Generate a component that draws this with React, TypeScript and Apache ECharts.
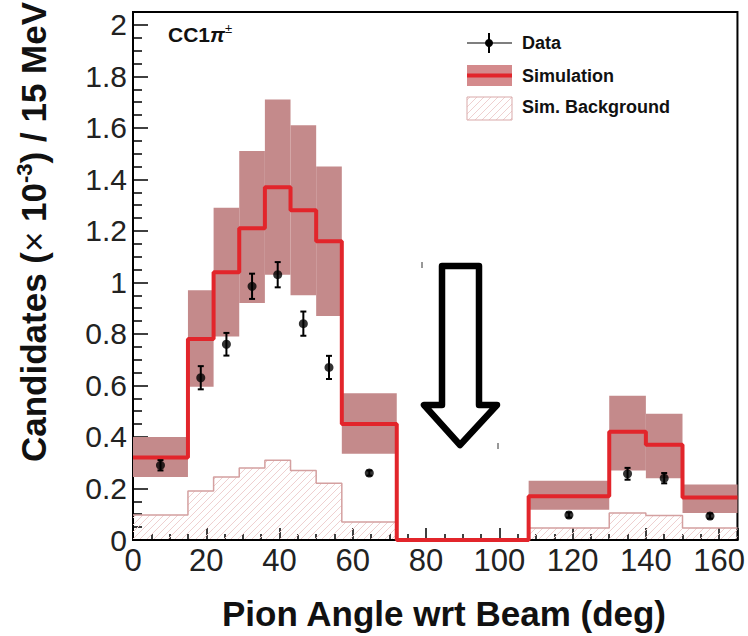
import React, { useEffect, useRef } from 'react';
import * as echarts from 'echarts';

// Histogram bin edges (deg)
const binEdges = [0, 15, 22, 29, 36, 43, 50, 57, 72, 108, 130, 140, 150, 165];
// Simulation central value per bin (x10^-3)
const simulation = [0.32, 0.78, 1.04, 1.21, 1.37, 1.28, 1.16, 0.45, 0, 0.17, 0.42, 0.37, 0.165];
// Simulation uncertainty band per bin
const simBandLow = [0.245, 0.595, 0.79, 0.92, 1.03, 0.95, 0.87, 0.335, 0, 0.117, 0.27, 0.24, 0.105];
const simBandHigh = [0.4, 0.97, 1.29, 1.51, 1.71, 1.61, 1.45, 0.57, 0, 0.23, 0.56, 0.49, 0.215];
// Simulated background per bin
const simBackground = [0.097, 0.19, 0.245, 0.28, 0.31, 0.27, 0.22, 0.07, 0, 0.047, 0.105, 0.095, 0.047];
// Data points
const dataX = [7.5, 18.5, 25.5, 32.5, 39.5, 46.5, 53.5, 64.5, 119, 135, 145, 157.5];
const dataY = [0.29, 0.63, 0.76, 0.985, 1.03, 0.84, 0.67, 0.26, 0.097, 0.257, 0.24, 0.093];
const dataErr = [0.02, 0.045, 0.044, 0.049, 0.049, 0.047, 0.045, 0.01, 0.01, 0.023, 0.02, 0.01];

const FONT = "'Liberation Sans', Arial, Helvetica, sans-serif";
const BAND = '#c48a8b';
const RED = '#e2252b';
const BGLINE = '#d4a0a0';
const HATCH = '#efd0d0';

function hatchLines(left: number, top: number, right: number, bottom: number, s: number, color: string) {
  const out: any[] = [];
  const cStart = Math.ceil((left + top) / s) * s;
  for (let c = cStart; c <= right + bottom; c += s) {
    const xa = Math.max(left, c - bottom);
    const xb = Math.min(right, c - top);
    if (xb > xa) {
      out.push({
        type: 'line',
        shape: { x1: xa, y1: c - xa, x2: xb, y2: c - xb },
        style: { stroke: color, lineWidth: 1 },
        silent: true,
      });
    }
  }
  return out;
}

function stepData(vals: number[]) {
  const pts: number[][] = [];
  for (let i = 0; i < vals.length; i++) pts.push([binEdges[i], vals[i]]);
  pts.push([binEdges[binEdges.length - 1], vals[vals.length - 1]]);
  return pts;
}

export default function App() {
  const ref = useRef<HTMLDivElement>(null);
  useEffect(() => {
    if (!ref.current) return;
    const chart = echarts.init(ref.current, undefined, { renderer: 'svg' });

    const bins = simulation.map((_, i) => [binEdges[i], binEdges[i + 1], simBandLow[i], simBandHigh[i], simBackground[i]]);
    const points = dataX.map((x, i) => [x, dataY[i], dataErr[i]]);

    const legendX0 = 467, legendX1 = 512;

    const option: any = {
      animation: false,
      grid: { left: 133, right: 8, top: 12, bottom: 96, show: true, borderColor: '#000', borderWidth: 2 },
      xAxis: {
        type: 'value', min: 0, max: 165, interval: 20, position: 'bottom',
        axisLine: { show: true, onZero: false, lineStyle: { color: '#000', width: 2 } },
        axisTick: { show: true, inside: true, length: 12, lineStyle: { color: '#000', width: 1.5 } },
        minorTick: { show: true, splitNumber: 4, length: 6, lineStyle: { color: '#000', width: 1.5 } },
        axisLabel: { show: true, showMaxLabel: false, fontSize: 31, color: '#222', fontFamily: FONT, margin: 5 },
        splitLine: { show: false },
        minorSplitLine: { show: false },
      },
      yAxis: {
        type: 'value', min: 0, max: 2.05, interval: 0.2, position: 'left',
        axisLine: { show: true, onZero: false, lineStyle: { color: '#000', width: 2 } },
        axisTick: { show: true, inside: true, length: 15, lineStyle: { color: '#000', width: 1.5 } },
        minorTick: { show: true, splitNumber: 4, length: 9, lineStyle: { color: '#000', width: 1.5 } },
        axisLabel: {
          show: true, showMaxLabel: false, fontSize: 30, color: '#222', fontFamily: FONT, margin: 6,
          formatter: (v: number) => String(+Number(v).toFixed(2)),
        },
        splitLine: { show: false },
        minorSplitLine: { show: false },
      },
      series: [
        {
          type: 'custom', name: 'Sim. Background hatch', z: 1,
          data: bins,
          encode: { x: [0, 1], y: [4] },
          renderItem: (params: any, api: any) => {
            const x0 = api.value(0), x1 = api.value(1), v = api.value(4);
            if (!(v > 0)) return { type: 'group', children: [] };
            const p0 = api.coord([x0, v]);
            const p1 = api.coord([x1, 0]);
            return { type: 'group', children: hatchLines(p0[0], p0[1], p1[0], p1[1] - 1, 7, HATCH) };
          },
        },
        {
          type: 'custom', name: 'Simulation band', z: 2,
          data: bins,
          encode: { x: [0, 1], y: [2, 3] },
          renderItem: (params: any, api: any) => {
            const x0 = api.value(0), x1 = api.value(1), lo = api.value(2), hi = api.value(3);
            if (!(hi > lo)) return { type: 'group', children: [] };
            const p0 = api.coord([x0, hi]);
            const p1 = api.coord([x1, lo]);
            return {
              type: 'rect',
              shape: { x: p0[0], y: p0[1], width: p1[0] - p0[0], height: p1[1] - p0[1] },
              style: { fill: BAND },
            };
          },
        },
        {
          type: 'line', name: 'Sim. Background', step: 'end', z: 3,
          data: stepData(simBackground), showSymbol: false, symbol: 'none',
          lineStyle: { color: BGLINE, width: 1.5 },
        },
        {
          type: 'line', name: 'Simulation', step: 'end', z: 4,
          data: stepData(simulation), showSymbol: false, symbol: 'none',
          lineStyle: { color: RED, width: 4 },
        },
        {
          type: 'custom', name: 'Data errors', z: 5,
          data: points,
          encode: { x: 0, y: 1 },
          renderItem: (params: any, api: any) => {
            const x = api.value(0), y = api.value(1), e = api.value(2);
            const top = api.coord([x, y + e]);
            const bot = api.coord([x, y - e]);
            const st = { stroke: '#000', lineWidth: 2 };
            return {
              type: 'group',
              children: [
                { type: 'line', shape: { x1: top[0], y1: top[1], x2: bot[0], y2: bot[1] }, style: st },
                { type: 'line', shape: { x1: top[0] - 3, y1: top[1], x2: top[0] + 3, y2: top[1] }, style: st },
                { type: 'line', shape: { x1: bot[0] - 3, y1: bot[1], x2: bot[0] + 3, y2: bot[1] }, style: st },
              ],
            };
          },
        },
        {
          type: 'scatter', name: 'Data', z: 6,
          data: points.map((p) => [p[0], p[1]]),
          symbol: 'circle', symbolSize: 9,
          itemStyle: { color: '#000' },
        },
      ],
      graphic: [
        // Axis titles
        {
          type: 'text', x: 444, y: 613,
          style: { text: 'Pion Angle wrt Beam (deg)', font: `bold 35px ${FONT}`, fill: '#111', align: 'center', verticalAlign: 'middle' },
        },
        {
          type: 'text', x: 33, y: 232, rotation: Math.PI / 2,
          style: {
            text: '{a|Candidates (}{m|\u00d7}{a| 10}{s|-3}{a|) / 15 MeV}',
            align: 'center', verticalAlign: 'middle', fill: '#111',
            rich: {
              a: { fontSize: 35, fontWeight: 'bold', fontFamily: FONT, fill: '#111', lineHeight: 40 },
              m: { fontSize: 35, fontWeight: 'normal', fontFamily: FONT, fill: '#111', lineHeight: 40 },
              s: { fontSize: 22, fontWeight: 'bold', fontFamily: FONT, fill: '#111', lineHeight: 16, verticalAlign: 'top' },
            },
          },
        },
        // Channel label
        {
          type: 'text', x: 168, y: 34,
          style: {
            text: '{a|CC1}{p|\u03c0}{s|\u00b1}',
            align: 'left', verticalAlign: 'middle',
            rich: {
              a: { fontSize: 21, fontWeight: 'bold', fontFamily: FONT, fill: '#111', lineHeight: 24 },
              p: { fontSize: 21, fontWeight: 'bold', fontStyle: 'italic', fontFamily: FONT, fill: '#111', lineHeight: 24 },
              s: { fontSize: 13, fontFamily: FONT, fill: '#111', lineHeight: 13, verticalAlign: 'top' },
            },
          },
        },
        // Legend: Data
        { type: 'line', shape: { x1: legendX0, y1: 43, x2: legendX1, y2: 43 }, style: { stroke: '#555', lineWidth: 1.5 } },
        { type: 'line', shape: { x1: 489, y1: 33, x2: 489, y2: 53 }, style: { stroke: '#000', lineWidth: 2 } },
        { type: 'circle', shape: { cx: 489, cy: 43, r: 4 }, style: { fill: '#000' } },
        { type: 'text', x: 522, y: 43, style: { text: 'Data', font: `bold 18px ${FONT}`, fill: '#111', align: 'left', verticalAlign: 'middle' } },
        // Legend: Simulation
        { type: 'rect', shape: { x: legendX0, y: 65, width: legendX1 - legendX0, height: 21 }, style: { fill: '#d48a8c' } },
        { type: 'line', shape: { x1: legendX0, y1: 75.5, x2: legendX1, y2: 75.5 }, style: { stroke: RED, lineWidth: 4 } },
        { type: 'text', x: 522, y: 76, style: { text: 'Simulation', font: `bold 18px ${FONT}`, fill: '#111', align: 'left', verticalAlign: 'middle' } },
        // Legend: Sim. Background
        { type: 'group', children: hatchLines(legendX0, 97, legendX1, 120, 7, HATCH) },
        { type: 'rect', shape: { x: legendX0, y: 97, width: legendX1 - legendX0, height: 23 }, style: { fill: 'none', stroke: '#d9a9a9', lineWidth: 1 } },
        { type: 'text', x: 522, y: 107, style: { text: 'Sim. Background', font: `bold 18px ${FONT}`, fill: '#111', align: 'left', verticalAlign: 'middle' } },
        // Arrow annotation
        {
          type: 'polygon',
          shape: { points: [[442, 266], [479, 266], [479, 405], [497, 405], [460, 445], [424, 405], [442, 405]] },
          style: { fill: '#fff', stroke: '#000', lineWidth: 6.5, lineJoin: 'round' },
        },
        { type: 'line', shape: { x1: 422, y1: 262, x2: 422, y2: 268 }, style: { stroke: '#333', lineWidth: 1 } },
        { type: 'line', shape: { x1: 498, y1: 443, x2: 498, y2: 449 }, style: { stroke: '#333', lineWidth: 1 } },
      ],
    };

    chart.setOption(option);
    return () => chart.dispose();
  }, []);

  return <div ref={ref} style={{ position: 'absolute', left: 0, top: 0, width: 748, height: 636 }} />;
}
